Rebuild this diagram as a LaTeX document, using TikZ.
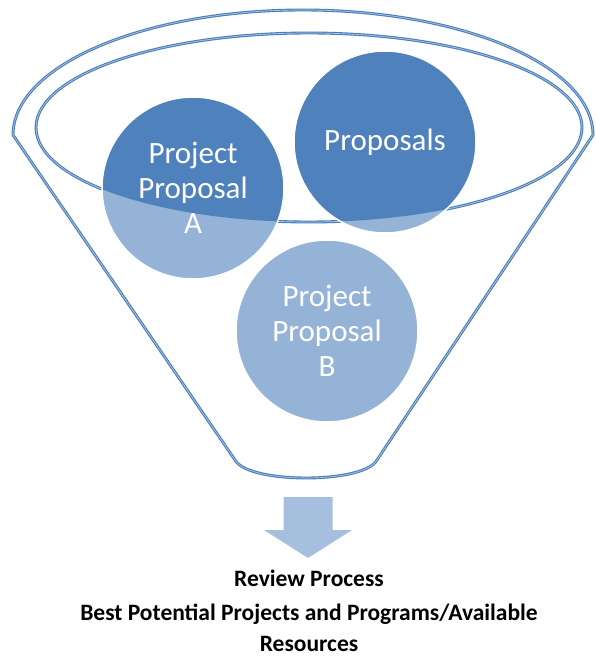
\documentclass[tikz,border=0pt]{standalone}
\usepackage{fontspec}
\setmainfont{Carlito}
\usepackage{tikz}
\usetikzlibrary{positioning}
\definecolor{funnelline}{HTML}{4A7EBB}
\definecolor{darkprop}{HTML}{4F81BD}
\definecolor{lightprop}{HTML}{95B3D7}
\definecolor{arrowfill}{HTML}{A7BFDE}
\tikzset{
    funnel/.style={draw=funnelline, double=funnelline!45, double distance=0.7pt, line width=1.1pt},
    proposal/.style={circle, minimum size=182pt, inner sep=0pt, fill=lightprop, draw=white, line width=1.5pt,
        text=white, align=center, font=\fontsize{31}{35}\selectfont,
        path picture={\fill[darkprop] (mouth) ellipse (273pt and 94.5pt);}},
    outcome/.style={inner sep=0pt, align=center, font=\bfseries\fontsize{23.5}{31}\selectfont}}

\begin{document}
\begin{tikzpicture}[x=1pt,y=-1pt]
    \useasboundingbox (0,0) rectangle (595,660);

    % funnel body and mouth
    \draw[funnel] (13,135) arc[start angle=180, end angle=360, x radius=290, y radius=125]
        -- (377,460) .. controls (364,484) and (248,484) .. (235,460) -- cycle;
    \coordinate (mouth) at (309,127.5);
    \draw[funnel] (mouth) ellipse (273 and 94.5);

    % proposals in the funnel
    \node[proposal] (propA) at (193,188) {Project\\Proposal\\A};
    \node[proposal] (proposals) at (385,142) {Proposals};
    \node[proposal] (propB) at (327,331) {Project\\Proposal\\B};

    % review arrow
    \fill[arrowfill] (283.5,497) -- (332.5,497) -- (332.5,530) -- (352,530)
        -- (308,558) -- (264,530) -- (283.5,530) -- cycle;

    \node[outcome, anchor=base] (review) at (309,586) {Review Process};
    \node[outcome] (best) at (309,628) {Best Potential Projects and Programs/Available\\Resources};
\end{tikzpicture}
\end{document}
